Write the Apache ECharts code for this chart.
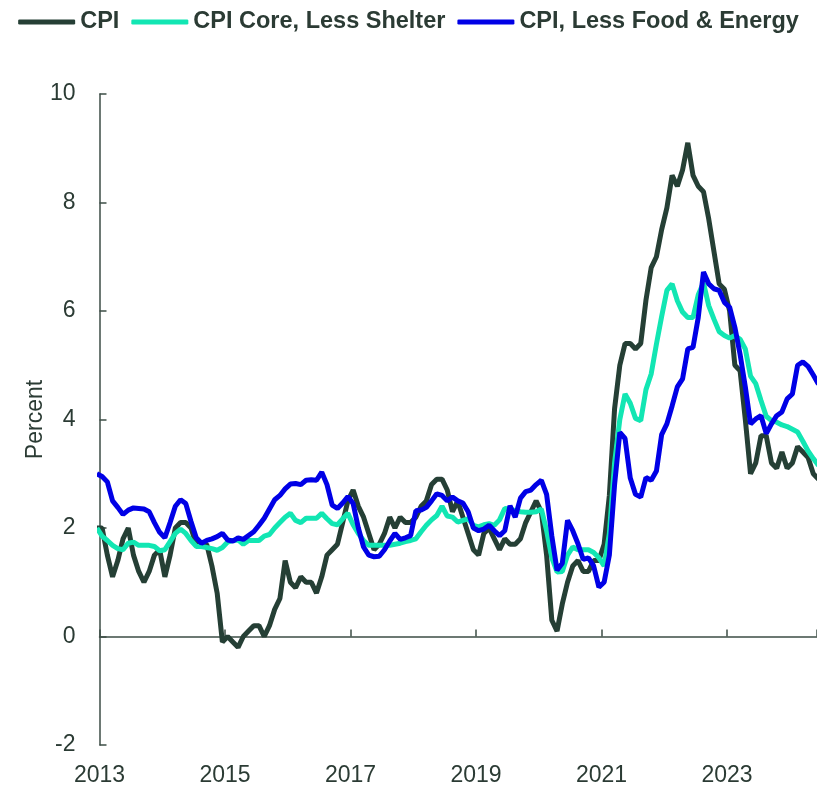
<!DOCTYPE html>
<html>
<head>
<meta charset="utf-8">
<script src="https://cdn.jsdelivr.net/npm/echarts@6/dist/echarts.min.js"></script>
<style>
html,body{margin:0;padding:0;background:#fff;}
#chart{width:817px;height:788px;}
</style>
</head>
<body>
<div id="chart"></div>
<script>
// Monthly observations, Jan 2013 – Jul 2024 (year-over-year, percent)
var START_YEAR = 2013;
var seriesNames = ['CPI', 'CPI Core, Less Shelter', 'CPI, Less Food & Energy'];
var yTicks = [-2, 0, 2, 4, 6, 8, 10];
var xTickYears = [2013, 2015, 2017, 2019, 2021, 2023];

var cpi = [
  2.0, 2.0, 1.5, 1.1, 1.4, 1.8, 2.0, 1.5, 1.2, 1.0, 1.2, 1.5,
  1.6, 1.1, 1.5, 2.0, 2.1, 2.1, 2.0, 1.7, 1.7, 1.7, 1.3, 0.8,
  -0.1, 0.0, -0.1, -0.2, 0.0, 0.1, 0.2, 0.2, 0.0, 0.2, 0.5, 0.7,
  1.4, 1.0, 0.9, 1.1, 1.0, 1.0, 0.8, 1.1, 1.5, 1.6, 1.7, 2.1,
  2.5, 2.7, 2.4, 2.2, 1.9, 1.6, 1.7, 1.9, 2.2, 2.0, 2.2, 2.1,
  2.1, 2.2, 2.4, 2.5, 2.8, 2.9, 2.9, 2.7, 2.3, 2.5, 2.2, 1.9,
  1.6, 1.5, 1.9, 2.0, 1.8, 1.6, 1.8, 1.7, 1.7, 1.8, 2.1, 2.3,
  2.5, 2.3, 1.5, 0.3, 0.1, 0.6, 1.0, 1.3, 1.4, 1.2, 1.2, 1.4,
  1.4, 1.7, 2.6, 4.2, 5.0, 5.4, 5.4, 5.3, 5.4, 6.2, 6.8, 7.0,
  7.5, 7.9, 8.5, 8.3, 8.6, 9.1, 8.5, 8.3, 8.2, 7.7, 7.1, 6.5,
  6.4, 6.0, 5.0, 4.9, 4.0, 3.0, 3.2, 3.7, 3.7, 3.2, 3.1, 3.4,
  3.1, 3.2, 3.5, 3.4, 3.3, 3.0, 2.9
];

var coreLessShelter = [
  2.0, 1.85, 1.77, 1.68, 1.62, 1.6, 1.72, 1.74, 1.68, 1.68, 1.68, 1.66,
  1.58, 1.6, 1.75, 1.9, 1.98, 1.9, 1.77, 1.66, 1.66, 1.64, 1.62, 1.59,
  1.64, 1.74, 1.77, 1.78, 1.7, 1.77, 1.77, 1.77, 1.85, 1.88, 2.0, 2.1,
  2.2, 2.27, 2.14, 2.1, 2.18, 2.18, 2.18, 2.27, 2.17, 2.08, 2.06, 2.17,
  2.27, 2.06, 1.9, 1.77, 1.68, 1.68, 1.68, 1.68, 1.68, 1.7, 1.72, 1.75,
  1.77, 1.8, 1.93, 2.05, 2.15, 2.23, 2.4, 2.22, 2.2, 2.11, 2.14, 2.17,
  2.05, 2.02, 2.06, 2.08, 2.05, 2.15, 2.36, 2.35, 2.32, 2.3, 2.29, 2.29,
  2.3, 2.35, 1.95, 1.45, 1.19, 1.2, 1.5, 1.65, 1.6, 1.6, 1.6, 1.55,
  1.45, 1.3, 1.9, 3.2, 4.0, 4.47, 4.3, 4.02, 3.98, 4.55, 4.84, 5.39,
  5.9, 6.38, 6.5, 6.19, 5.98, 5.88, 5.88, 6.3, 6.52, 6.1, 5.85, 5.62,
  5.55, 5.5, 5.55, 5.48, 5.3, 4.8, 4.66, 4.35, 4.06, 3.98, 3.95, 3.9,
  3.87, 3.82, 3.77, 3.6, 3.42, 3.28, 3.15
];

var lessFoodEnergy = [
  3.0, 2.95, 2.85, 2.5, 2.38, 2.25, 2.33, 2.37, 2.36, 2.35, 2.3, 2.1,
  1.92, 1.82, 2.1, 2.4, 2.52, 2.45, 2.12, 1.82, 1.72, 1.77, 1.8, 1.84,
  1.9, 1.78, 1.76, 1.82, 1.79, 1.86, 1.93, 2.05, 2.18, 2.35, 2.52, 2.6,
  2.72, 2.81, 2.82, 2.8, 2.88, 2.89, 2.88, 3.03, 2.8, 2.42, 2.36, 2.46,
  2.58, 2.45, 2.0, 1.65, 1.5, 1.47, 1.48, 1.6, 1.76, 1.9, 1.79, 1.82,
  1.86, 2.32, 2.33, 2.38, 2.5, 2.63, 2.6, 2.5, 2.57, 2.5, 2.46, 2.3,
  2.0, 1.95, 1.98, 2.05, 1.95, 1.86, 1.95, 2.41, 2.2, 2.55, 2.67, 2.7,
  2.8, 2.88, 2.62, 1.85, 1.22, 1.35, 2.14, 1.95, 1.71, 1.42, 1.45, 1.3,
  0.91, 1.0, 1.5, 2.8, 3.76, 3.65, 2.92, 2.62, 2.57, 2.93, 2.88, 3.05,
  3.72, 3.92, 4.25, 4.6, 4.75, 5.3, 5.33, 5.88, 6.72, 6.5, 6.41, 6.38,
  6.16, 6.07, 5.7, 5.2, 4.6, 3.92, 4.01, 4.07, 3.74, 3.92, 4.07, 4.14,
  4.38, 4.47, 5.0, 5.06, 4.98, 4.82, 4.65
];

// x position in years since START_YEAR (observations centred half a month before month start)
function toPairs(arr) {
  return arr.map(function (v, i) { return [(i - 0.5) / 12, v]; });
}

var TEXT = '#2b3b34';
var AXIS = '#3d4d46';
var FONT = '"Liberation Sans", Arial, sans-serif';
var colors = ['#253f35', '#12e6b3', '#0000e6'];
var X_MAX = 11.434;

var chart = echarts.init(document.getElementById('chart'), null, {renderer: 'canvas'});
var option = {
  animation: false,
  backgroundColor: '#ffffff',
  textStyle: {fontFamily: FONT},
  legend: {
    top: 5,
    left: 'center',
    icon: 'roundRect',
    itemWidth: 57,
    itemHeight: 5,
    itemGap: 12,
    textStyle: {fontSize: 23.5, fontWeight: 'bold', color: TEXT, fontFamily: FONT},
    data: seriesNames
  },
  grid: {left: 99.5, right: 0, top: 94, bottom: 43, containLabel: false},
  xAxis: [
    {
      type: 'value', min: 0, max: X_MAX, interval: 2, position: 'bottom',
      axisLine: {show: true, onZero: true, lineStyle: {color: AXIS, width: 1.5}},
      axisTick: {show: true, inside: true, length: 7, lineStyle: {color: AXIS, width: 1.5}},
      axisLabel: {show: false},
      splitLine: {show: false}
    },
    {
      type: 'value', min: 0, max: X_MAX, interval: 2, position: 'bottom',
      axisLine: {show: false, onZero: false},
      axisTick: {show: false},
      splitLine: {show: false},
      axisLabel: {
        show: true, margin: 19, fontSize: 23, color: TEXT, fontFamily: FONT,
        showMaxLabel: false,
        formatter: function (v) {
          var y = START_YEAR + Math.round(v);
          return (Math.abs(v - Math.round(v)) < 1e-6 && xTickYears.indexOf(y) >= 0) ? String(y) : '';
        }
      }
    }
  ],
  yAxis: {
    type: 'value', min: yTicks[0], max: yTicks[yTicks.length - 1], interval: 2,
    name: 'Percent', nameLocation: 'middle', nameGap: 52, nameMoveOverlap: false,
    nameTextStyle: {fontSize: 23, color: TEXT, fontFamily: FONT},
    axisLine: {show: true, onZero: false, lineStyle: {color: AXIS, width: 1.5}},
    axisTick: {show: true, inside: true, length: 7, lineStyle: {color: AXIS, width: 1.5}},
    axisLabel: {margin: 24, fontSize: 23, color: TEXT, fontFamily: FONT},
    splitLine: {show: false}
  },
  series: [
    {name: seriesNames[0], type: 'line', xAxisIndex: 0, data: toPairs(cpi), showSymbol: false, symbol: 'none',
     lineStyle: {width: 5, color: colors[0]}, itemStyle: {color: colors[0]}, clip: true},
    {name: seriesNames[1], type: 'line', xAxisIndex: 0, data: toPairs(coreLessShelter), showSymbol: false, symbol: 'none',
     lineStyle: {width: 5, color: colors[1]}, itemStyle: {color: colors[1]}, clip: true},
    {name: seriesNames[2], type: 'line', xAxisIndex: 0, data: toPairs(lessFoodEnergy), showSymbol: false, symbol: 'none',
     lineStyle: {width: 5, color: colors[2]}, itemStyle: {color: colors[2]}, clip: true}
  ]
};
chart.setOption(option);
</script>
</body>
</html>
